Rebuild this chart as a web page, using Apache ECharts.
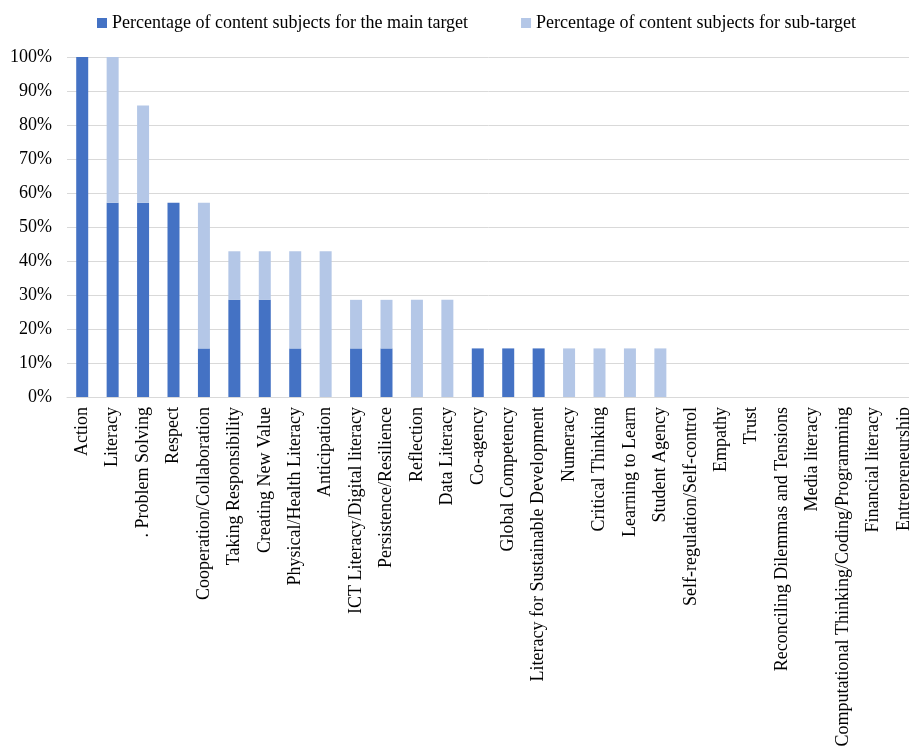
<!DOCTYPE html>
<html>
<head>
<meta charset="utf-8">
<script src="https://cdn.jsdelivr.net/npm/echarts@6/dist/echarts.min.js"></script>
<style>
  html, body { margin: 0; padding: 0; background: #fff; }
  #chart { width: 909px; height: 750px; }
</style>
</head>
<body>
<div id="chart"></div>
<script>
// Competency categories (x axis)
const categories = [
  'Action', 'Literacy', '. Problem Solving', 'Respect', 'Cooperation/Collaboration',
  'Taking Responsibility', 'Creating New Value', 'Physical/Health Literacy', 'Anticipation',
  'ICT Literacy/Digital literacy', 'Persistence/Resilience', 'Reflection', 'Data Literacy',
  'Co-agency', 'Global Competency', 'Literacy for Sustainable Development', 'Numeracy',
  'Critical Thinking', 'Learning to Learn', 'Student Agency', 'Self-regulation/Self-control',
  'Empathy', 'Trust', 'Reconciling Dilemmas and Tensions', 'Media literacy',
  'Computational Thinking/Coding/Programming', 'Financial literacy', 'Entrepreneurship'
];

// Percentage of content subjects for the main target
const mainTarget = [
  100, 57.14, 57.14, 57.14, 14.29,
  28.57, 28.57, 14.29, 0,
  14.29, 14.29, 0, 0,
  14.29, 14.29, 14.29, 0,
  0, 0, 0, 0,
  0, 0, 0, 0,
  0, 0, 0
];

// Percentage of content subjects for sub-target
const subTarget = [
  0, 42.86, 28.57, 0, 42.86,
  14.29, 14.29, 28.57, 42.86,
  14.29, 14.29, 28.57, 28.57,
  0, 0, 0, 14.29,
  14.29, 14.29, 14.29, 0,
  0, 0, 0, 0,
  0, 0, 0
];

const seriesNames = [
  'Percentage of content subjects for the main target',
  'Percentage of content subjects for sub-target'
];

const FONT = '"Liberation Serif", "Times New Roman", serif';

const chart = echarts.init(document.getElementById('chart'), null, { renderer: 'canvas' });

chart.setOption({
  animation: false,
  backgroundColor: '#ffffff',
  textStyle: { fontFamily: FONT },
  legend: {
    top: 9,
    left: 92,
    itemWidth: 10,
    itemHeight: 10,
    itemGap: 53,
    icon: 'rect',
    textStyle: { fontFamily: FONT, fontSize: 18, color: '#000' },
    data: seriesNames
  },
  grid: {
    left: 67,
    top: 57,
    width: 852,
    height: 340,
    containLabel: false,
    outerBoundsMode: 'none'
  },
  xAxis: {
    type: 'category',
    data: categories,
    axisLine: { show: true, lineStyle: { color: '#d9d9d9', width: 1 } },
    axisTick: { show: false },
    axisLabel: {
      interval: 0,
      rotate: 90,
      margin: 10,
      fontFamily: FONT,
      fontSize: 18,
      color: '#000'
    }
  },
  yAxis: {
    type: 'value',
    min: 0,
    max: 100,
    interval: 10,
    axisLine: { show: false },
    axisTick: { show: false },
    splitLine: { lineStyle: { color: '#d9d9d9', width: 1 } },
    axisLabel: {
      margin: 15,
      fontFamily: FONT,
      fontSize: 18,
      color: '#000',
      formatter: '{value}%'
    }
  },
  series: [
    {
      name: seriesNames[0],
      type: 'bar',
      stack: 'total',
      barWidth: 12,
      itemStyle: { color: '#4472c4' },
      data: mainTarget
    },
    {
      name: seriesNames[1],
      type: 'bar',
      stack: 'total',
      barWidth: 12,
      itemStyle: { color: '#b4c7e7' },
      data: subTarget
    }
  ]
});
</script>
</body>
</html>
